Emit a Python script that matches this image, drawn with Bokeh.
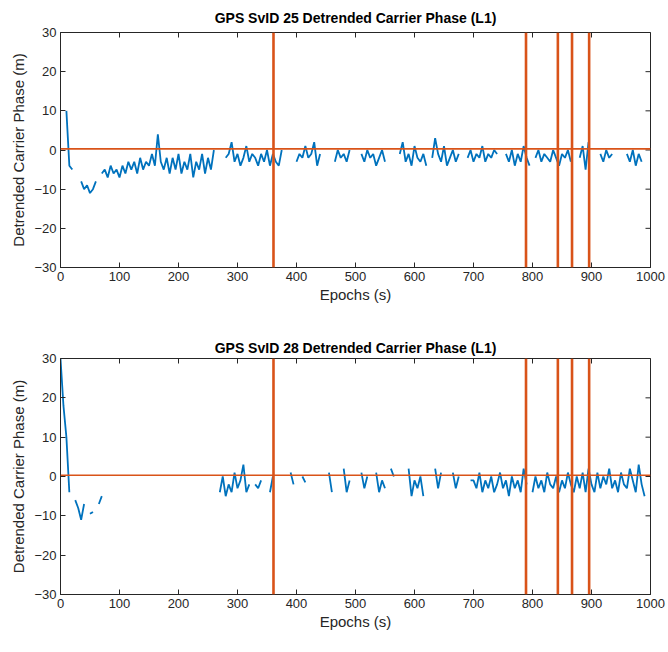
import math
from bokeh.plotting import figure
from bokeh.layouts import column
from bokeh.models import Range1d, Span, FixedTicker, ColumnDataSource
from bokeh.embed import file_html
from bokeh.resources import INLINE

nan = float("nan")

# ---------------- data ----------------
epochs = list(range(0, 1001, 5))

svid25_phase = [
    nan, nan, 10, -4, -5, nan, nan, -8, -10, -9,
    -11, -10, -8, nan, -6, -5, -7, -4, -6, -5,
    -7, -4, -6, -3, -5, -3, -6, -2, -5, -3,
    -4, -1, -4, 4, -3, -5, -2, -6, -2, -5,
    -1, -6, -3, -5, -1, -7, -3, -5, -1, -6,
    -2, -5, 0, nan, nan, nan, -2, -1, 2, -3,
    -1, -4, -2, 1, -3, -1, -2, -4, -1, -3,
    0, -4, -1, -3, -4, 0, nan, nan, nan, nan,
    -3, -1, -2, 1, -2, -1, 2, -4, -1, nan,
    nan, nan, nan, -3, 0, -2, -1, -3, 0, nan,
    nan, nan, -1, -3, 0, -2, -1, -4, -2, 0,
    -3, nan, nan, nan, nan, -1, 2, -3, -1, -4,
    1, -2, -3, -1, -4, nan, -2, 3, -1, -3,
    1, -4, -2, 0, -3, -1, nan, nan, -2, 0,
    -3, -1, -2, 1, -3, -1, -2, 0, -1, nan,
    nan, -1, -3, 0, -4, -1, -3, 1, -2, -4,
    nan, -2, 0, -3, -1, -2, -3, 0, -2, -4,
    -1, -2, 0, -3, nan, nan, -2, 1, -5, 2,
    nan, nan, nan, -1, -3, 0, -2, -1, nan, nan,
    nan, nan, -1, -3, 0, -4, -1, -3, nan, nan,
    nan,
]

svid28_phase = [
    30, 18, 10, -4, nan, -6, -8, -11, -7, nan,
    -9.5, -9, nan, -7, -5, nan, nan, nan, nan, nan,
    nan, nan, nan, nan, nan, nan, nan, nan, nan, nan,
    nan, nan, nan, nan, nan, nan, nan, nan, nan, nan,
    nan, nan, nan, nan, nan, nan, nan, nan, nan, nan,
    nan, nan, nan, nan, -4, 0, -5, -2, -4, 1,
    -3, -1, 3, -4, -2, nan, -2, -3, -1, nan,
    nan, -4, 0, nan, nan, nan, nan, nan, 1, -2,
    nan, nan, 0, -1.5, nan, nan, nan, nan, nan, nan,
    nan, 1, -4, nan, nan, nan, 2, -4, -1, nan,
    nan, nan, 1, -3, 0, nan, nan, 1, -4, -1,
    -3, nan, 2, 0, nan, nan, nan, nan, 2, -5,
    -1, -3, 0, -5, nan, nan, nan, 2, -3, 1,
    nan, nan, nan, 1, -3, 0, nan, nan, nan, -1,
    -1, -3, 1, -4, -1, -3, 0, -4, -2, 1,
    -3, -1, -5, 0, -3, -1, -4, 2, -2, nan,
    -4, 0, -3, -1, -4, 1, -2, -3, 0, -4,
    -1, -3, 1, -2, -4, 0, -3, 1, -4, 2,
    -2, -4, 1, -3, 0, -2, 2, -3, -1, -4,
    1, -2, -3, 2, -1, -4, 3, -2, -5, nan,
    nan,
]

reference_level = 0.3
cycle_slip_epochs = [361, 789, 843, 867, 896]
x_ticks = [0, 100, 200, 300, 400, 500, 600, 700, 800, 900, 1000]
y_ticks = [-30, -20, -10, 0, 10, 20, 30]

BLUE = "#0072BD"
ORANGE = "#D95319"
AX = "#262626"
FONT = "Liberation Sans"


def style_axis(ax):
    ax.axis_line_color = AX
    ax.axis_line_width = 1
    ax.major_tick_line_color = AX
    ax.major_tick_in = 5
    ax.major_tick_out = 0
    ax.minor_tick_line_color = None
    ax.major_label_text_font = FONT
    ax.major_label_text_color = AX
    ax.major_label_text_font_size = "13px"
    ax.major_label_standoff = 4
    ax.axis_label_text_font = FONT
    ax.axis_label_text_font_style = "normal"
    ax.axis_label_text_color = AX
    ax.axis_label_text_font_size = "15px"


def make_panel(title, values, height, top, bottom, title_gap):
    x0, x1 = x_ticks[0], x_ticks[-1]
    y0, y1 = y_ticks[0], y_ticks[-1]
    p = figure(width=668, height=height, output_backend="svg", toolbar_location=None,
               x_range=Range1d(x0, x1), y_range=Range1d(y0, y1),
               min_border_left=60, min_border_right=18,
               min_border_top=top, min_border_bottom=bottom,
               background_fill_color="white", border_fill_color="white")
    p.outline_line_color = AX
    p.outline_line_width = 1
    p.grid.visible = False
    p.title.text = title
    p.title.align = "center"
    p.title.text_font = FONT
    p.title.text_font_style = "bold"
    p.title.text_font_size = "14px"
    p.title.text_color = "black"
    p.title.standoff = title_gap

    p.xaxis.ticker = FixedTicker(ticks=x_ticks)
    p.yaxis.ticker = FixedTicker(ticks=y_ticks)
    p.xaxis.axis_label = "Epochs (s)"
    p.yaxis.axis_label = "Detrended Carrier Phase (m)"
    p.xaxis.axis_label_standoff = 2
    p.yaxis.axis_label_standoff = 4
    style_axis(p.xaxis[0])
    style_axis(p.yaxis[0])

    # box ticks on the top and right edges (MATLAB "box on")
    p.scatter(x_ticks, [y1] * len(x_ticks), marker="dash", angle=math.pi / 2,
              size=10, line_color=AX, line_width=1)
    p.scatter([x1] * len(y_ticks), y_ticks, marker="dash", angle=0,
              size=10, line_color=AX, line_width=1)

    src = ColumnDataSource(dict(t=epochs, v=values))
    p.line("t", "v", source=src, line_color=BLUE, line_width=1.8)

    p.add_layout(Span(location=reference_level, dimension="width",
                      line_color=ORANGE, line_width=1.6))
    for e in cycle_slip_epochs:
        p.add_layout(Span(location=e, dimension="height",
                          line_color=ORANGE, line_width=2.6))
    return p


p1 = make_panel("GPS SvID 25 Detrended Carrier Phase (L1)", svid25_phase, 326, 31, 59, 14)
p2 = make_panel("GPS SvID 28 Detrended Carrier Phase (L1)", svid28_phase, 326, 32, 58, 5)

layout = column(p1, p2, spacing=0)
open("out.html", "w").write(file_html(layout, INLINE))
